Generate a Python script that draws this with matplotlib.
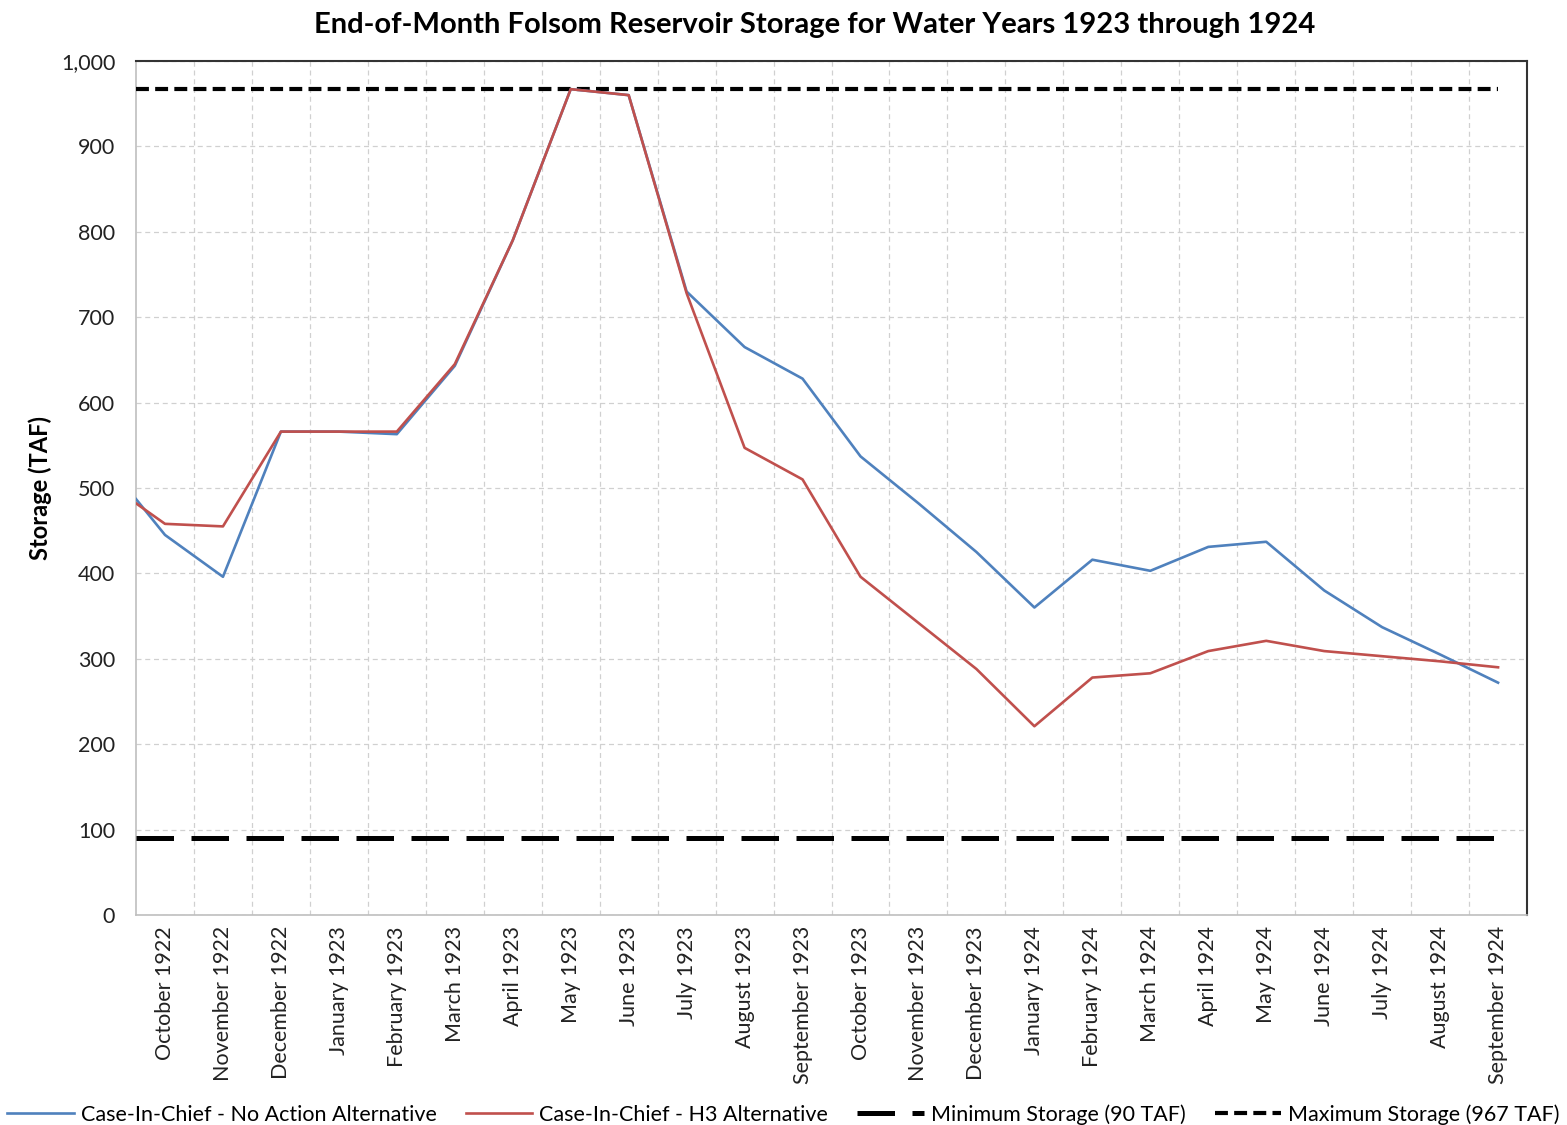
import numpy as np
import matplotlib
matplotlib.use("Agg")
import matplotlib.pyplot as plt
from matplotlib.ticker import FuncFormatter

plt.rcParams['font.family'] = ['Lato', 'DejaVu Sans']

# month labels (end of month)
months = ['October 1922', 'November 1922', 'December 1922', 'January 1923',
          'February 1923', 'March 1923', 'April 1923', 'May 1923', 'June 1923',
          'July 1923', 'August 1923', 'September 1923', 'October 1923',
          'November 1923', 'December 1923', 'January 1924', 'February 1924',
          'March 1924', 'April 1924', 'May 1924', 'June 1924', 'July 1924',
          'August 1924', 'September 1924']

# starting storage (end of Sept 1922) followed by the 24 month-end values, TAF
no_action = [487, 445, 396, 566, 566, 563, 643, 790, 967, 960, 730, 665, 628,
             537, 482, 425, 360, 416, 403, 431, 437, 380, 337, 305, 272]
h3_alt = [482, 458, 455, 566, 566, 566, 645, 790, 967, 960, 728, 547, 510,
          396, 342, 288, 221, 278, 283, 309, 321, 309, 303, 297, 290]

min_storage = 90
max_storage = 967

x = np.concatenate([[-0.5], np.arange(len(months))])

fig = plt.figure(figsize=(15.67, 11.25), dpi=100)
ax = fig.add_axes([0.0868, 0.1867, 0.8877, 0.7591])

blue = '#4F81BD'
red = '#C0504D'

ax.plot(x, no_action, color=blue, lw=1.9, label='Case-In-Chief - No Action Alternative', zorder=4)
ax.plot(x, h3_alt, color=red, lw=1.9, label='Case-In-Chief - H3 Alternative', zorder=4)
ax.plot([x[0], x[-1]], [min_storage, min_storage], color='black', lw=3.6,
        dashes=(7.5, 3.5), label='Minimum Storage (90 TAF)', zorder=3)
ax.plot([x[0], x[-1]], [max_storage, max_storage], color='black', lw=3.0,
        dashes=(3.1, 1.5), label='Maximum Storage (967 TAF)', zorder=3)

ax.set_xlim(-0.5, len(months) - 0.5)
ax.set_ylim(0, 1000)
ax.set_yticks(np.arange(0, 1001, 100))
ax.yaxis.set_major_formatter(FuncFormatter(lambda v, p: f'{int(v):,}'))
ax.set_xticks(np.arange(len(months)))
ax.set_xticklabels(months, rotation=90, fontsize=15.5, color='#222222')
ax.set_xticks(np.arange(len(months) - 1) + 0.5, minor=True)
ax.tick_params(axis='y', labelsize=15.5, labelcolor='#222222', length=0, pad=15)
ax.tick_params(axis='x', which='both', length=0, pad=8)

ax.grid(axis='y', which='major', color='#D0D0D0', ls=(0, (4, 3)), lw=0.9)
ax.grid(axis='x', which='minor', color='#D0D0D0', ls=(0, (4, 3)), lw=0.9)
ax.set_axisbelow(True)

for side in ['left', 'bottom']:
    ax.spines[side].set_color('#BFBFBF')
    ax.spines[side].set_linewidth(1.2)
for side in ['top', 'right']:
    ax.spines[side].set_color('#333333')
    ax.spines[side].set_linewidth(1.5)

ax.set_ylabel('Storage (TAF)', fontsize=17, fontweight='bold', labelpad=6)
ax.set_title('End-of-Month Folsom Reservoir Storage for Water Years 1923 through 1924',
             fontsize=21, fontweight='bold', pad=20, x=0.488)

fig.legend(loc='lower center', bbox_to_anchor=(0.5, -0.017), ncol=4, frameon=False,
           fontsize=15.5, handlelength=3.1, handletextpad=0.32, columnspacing=1.35)

fig.savefig('out.png', dpi=100)
